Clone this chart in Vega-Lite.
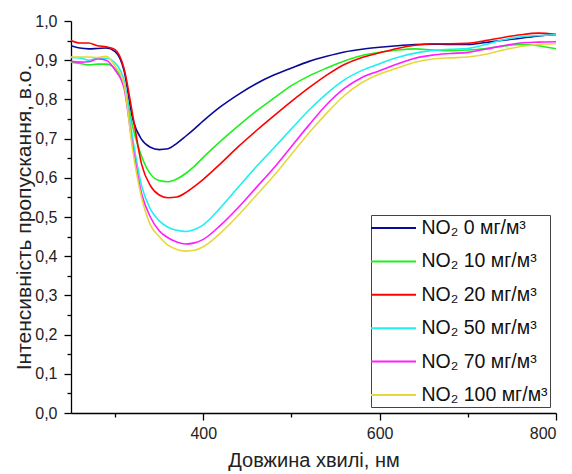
{
  "$schema": "https://vega.github.io/schema/vega-lite/v6.json",
  "width": 485,
  "height": 392,
  "autosize": {"type": "none"},
  "padding": {"left": 71, "top": 21, "right": 16, "bottom": 61},
  "background": "white",
  "config": {
    "view": {"stroke": null},
    "font": "Liberation Sans"
  },
  "data": {
    "values": [
      {"s":"NO₂ 0 мг/м³","w":250,"v":0.937},{"s":"NO₂ 0 мг/м³","w":260,"v":0.931},{"s":"NO₂ 0 мг/м³","w":270,"v":0.929},{"s":"NO₂ 0 мг/м³","w":280,"v":0.93},{"s":"NO₂ 0 мг/м³","w":290,"v":0.931},{"s":"NO₂ 0 мг/м³","w":300,"v":0.922},{"s":"NO₂ 0 мг/м³","w":310,"v":0.875},{"s":"NO₂ 0 мг/м³","w":320,"v":0.75},{"s":"NO₂ 0 мг/м³","w":330,"v":0.698},{"s":"NO₂ 0 мг/м³","w":340,"v":0.678},{"s":"NO₂ 0 мг/м³","w":350,"v":0.672},{"s":"NO₂ 0 мг/м³","w":360,"v":0.674},{"s":"NO₂ 0 мг/м³","w":370,"v":0.688},{"s":"NO₂ 0 мг/м³","w":380,"v":0.706},{"s":"NO₂ 0 мг/м³","w":390,"v":0.725},{"s":"NO₂ 0 мг/м³","w":400,"v":0.745},{"s":"NO₂ 0 мг/м³","w":420,"v":0.782},{"s":"NO₂ 0 мг/м³","w":440,"v":0.813},{"s":"NO₂ 0 мг/м³","w":460,"v":0.84},{"s":"NO₂ 0 мг/м³","w":480,"v":0.862},{"s":"NO₂ 0 мг/м³","w":500,"v":0.88},{"s":"NO₂ 0 мг/м³","w":520,"v":0.897},{"s":"NO₂ 0 мг/м³","w":540,"v":0.91},{"s":"NO₂ 0 мг/м³","w":560,"v":0.921},{"s":"NO₂ 0 мг/м³","w":580,"v":0.928},{"s":"NO₂ 0 мг/м³","w":600,"v":0.933},{"s":"NO₂ 0 мг/м³","w":620,"v":0.937},{"s":"NO₂ 0 мг/м³","w":640,"v":0.94},{"s":"NO₂ 0 мг/м³","w":660,"v":0.941},{"s":"NO₂ 0 мг/м³","w":680,"v":0.94},{"s":"NO₂ 0 мг/м³","w":700,"v":0.94},{"s":"NO₂ 0 мг/м³","w":720,"v":0.945},{"s":"NO₂ 0 мг/м³","w":740,"v":0.951},{"s":"NO₂ 0 мг/м³","w":760,"v":0.956},{"s":"NO₂ 0 мг/м³","w":780,"v":0.962},{"s":"NO₂ 0 мг/м³","w":800,"v":0.965},

      {"s":"NO₂ 10 мг/м³","w":250,"v":0.895},{"s":"NO₂ 10 мг/м³","w":260,"v":0.892},{"s":"NO₂ 10 мг/м³","w":270,"v":0.888},{"s":"NO₂ 10 мг/м³","w":280,"v":0.89},{"s":"NO₂ 10 мг/м³","w":290,"v":0.89},{"s":"NO₂ 10 мг/м³","w":300,"v":0.878},{"s":"NO₂ 10 мг/м³","w":310,"v":0.84},{"s":"NO₂ 10 мг/м³","w":320,"v":0.73},{"s":"NO₂ 10 мг/м³","w":330,"v":0.655},{"s":"NO₂ 10 мг/м³","w":340,"v":0.61},{"s":"NO₂ 10 мг/м³","w":350,"v":0.593},{"s":"NO₂ 10 мг/м³","w":360,"v":0.59},{"s":"NO₂ 10 мг/м³","w":370,"v":0.597},{"s":"NO₂ 10 мг/м³","w":380,"v":0.611},{"s":"NO₂ 10 мг/м³","w":390,"v":0.63},{"s":"NO₂ 10 мг/м³","w":400,"v":0.652},{"s":"NO₂ 10 мг/м³","w":420,"v":0.694},{"s":"NO₂ 10 мг/м³","w":440,"v":0.733},{"s":"NO₂ 10 мг/м³","w":460,"v":0.77},{"s":"NO₂ 10 мг/м³","w":480,"v":0.803},{"s":"NO₂ 10 мг/м³","w":500,"v":0.835},{"s":"NO₂ 10 мг/м³","w":520,"v":0.86},{"s":"NO₂ 10 мг/м³","w":540,"v":0.88},{"s":"NO₂ 10 мг/м³","w":560,"v":0.898},{"s":"NO₂ 10 мг/м³","w":580,"v":0.912},{"s":"NO₂ 10 мг/м³","w":600,"v":0.92},{"s":"NO₂ 10 мг/м³","w":620,"v":0.926},{"s":"NO₂ 10 мг/м³","w":640,"v":0.929},{"s":"NO₂ 10 мг/м³","w":660,"v":0.926},{"s":"NO₂ 10 мг/м³","w":680,"v":0.924},{"s":"NO₂ 10 мг/м³","w":700,"v":0.926},{"s":"NO₂ 10 мг/м³","w":720,"v":0.93},{"s":"NO₂ 10 мг/м³","w":740,"v":0.936},{"s":"NO₂ 10 мг/м³","w":760,"v":0.94},{"s":"NO₂ 10 мг/м³","w":780,"v":0.937},{"s":"NO₂ 10 мг/м³","w":800,"v":0.929},

      {"s":"NO₂ 20 мг/м³","w":250,"v":0.95},{"s":"NO₂ 20 мг/м³","w":260,"v":0.944},{"s":"NO₂ 20 мг/м³","w":270,"v":0.944},{"s":"NO₂ 20 мг/м³","w":280,"v":0.937},{"s":"NO₂ 20 мг/м³","w":290,"v":0.934},{"s":"NO₂ 20 мг/м³","w":300,"v":0.927},{"s":"NO₂ 20 мг/м³","w":310,"v":0.88},{"s":"NO₂ 20 мг/м³","w":320,"v":0.76},{"s":"NO₂ 20 мг/м³","w":330,"v":0.635},{"s":"NO₂ 20 мг/м³","w":340,"v":0.58},{"s":"NO₂ 20 мг/м³","w":350,"v":0.556},{"s":"NO₂ 20 мг/м³","w":360,"v":0.549},{"s":"NO₂ 20 мг/м³","w":370,"v":0.551},{"s":"NO₂ 20 мг/м³","w":380,"v":0.562},{"s":"NO₂ 20 мг/м³","w":390,"v":0.578},{"s":"NO₂ 20 мг/м³","w":400,"v":0.596},{"s":"NO₂ 20 мг/м³","w":420,"v":0.637},{"s":"NO₂ 20 мг/м³","w":440,"v":0.68},{"s":"NO₂ 20 мг/м³","w":460,"v":0.72},{"s":"NO₂ 20 мг/м³","w":480,"v":0.758},{"s":"NO₂ 20 мг/м³","w":500,"v":0.795},{"s":"NO₂ 20 мг/м³","w":520,"v":0.83},{"s":"NO₂ 20 мг/м³","w":540,"v":0.862},{"s":"NO₂ 20 мг/м³","w":560,"v":0.889},{"s":"NO₂ 20 мг/м³","w":580,"v":0.907},{"s":"NO₂ 20 мг/м³","w":600,"v":0.919},{"s":"NO₂ 20 мг/м³","w":620,"v":0.93},{"s":"NO₂ 20 мг/м³","w":640,"v":0.938},{"s":"NO₂ 20 мг/м³","w":660,"v":0.942},{"s":"NO₂ 20 мг/м³","w":680,"v":0.942},{"s":"NO₂ 20 мг/м³","w":700,"v":0.943},{"s":"NO₂ 20 мг/м³","w":720,"v":0.95},{"s":"NO₂ 20 мг/м³","w":740,"v":0.958},{"s":"NO₂ 20 мг/м³","w":760,"v":0.965},{"s":"NO₂ 20 мг/м³","w":780,"v":0.969},{"s":"NO₂ 20 мг/м³","w":800,"v":0.966},

      {"s":"NO₂ 50 мг/м³","w":250,"v":0.907},{"s":"NO₂ 50 мг/м³","w":260,"v":0.906},{"s":"NO₂ 50 мг/м³","w":270,"v":0.9},{"s":"NO₂ 50 мг/м³","w":280,"v":0.905},{"s":"NO₂ 50 мг/м³","w":290,"v":0.905},{"s":"NO₂ 50 мг/м³","w":300,"v":0.893},{"s":"NO₂ 50 мг/м³","w":310,"v":0.85},{"s":"NO₂ 50 мг/м³","w":320,"v":0.7},{"s":"NO₂ 50 мг/м³","w":330,"v":0.58},{"s":"NO₂ 50 мг/м³","w":340,"v":0.52},{"s":"NO₂ 50 мг/м³","w":350,"v":0.49},{"s":"NO₂ 50 мг/м³","w":360,"v":0.474},{"s":"NO₂ 50 мг/м³","w":370,"v":0.466},{"s":"NO₂ 50 мг/м³","w":380,"v":0.463},{"s":"NO₂ 50 мг/м³","w":390,"v":0.468},{"s":"NO₂ 50 мг/м³","w":400,"v":0.48},{"s":"NO₂ 50 мг/м³","w":420,"v":0.525},{"s":"NO₂ 50 мг/м³","w":440,"v":0.577},{"s":"NO₂ 50 мг/м³","w":460,"v":0.628},{"s":"NO₂ 50 мг/м³","w":480,"v":0.676},{"s":"NO₂ 50 мг/м³","w":500,"v":0.725},{"s":"NO₂ 50 мг/м³","w":520,"v":0.773},{"s":"NO₂ 50 мг/м³","w":540,"v":0.815},{"s":"NO₂ 50 мг/м³","w":560,"v":0.85},{"s":"NO₂ 50 мг/м³","w":580,"v":0.874},{"s":"NO₂ 50 мг/м³","w":600,"v":0.891},{"s":"NO₂ 50 мг/м³","w":620,"v":0.907},{"s":"NO₂ 50 мг/м³","w":640,"v":0.918},{"s":"NO₂ 50 мг/м³","w":660,"v":0.925},{"s":"NO₂ 50 мг/м³","w":680,"v":0.928},{"s":"NO₂ 50 мг/м³","w":700,"v":0.93},{"s":"NO₂ 50 мг/м³","w":720,"v":0.94},{"s":"NO₂ 50 мг/м³","w":740,"v":0.952},{"s":"NO₂ 50 мг/м³","w":760,"v":0.96},{"s":"NO₂ 50 мг/м³","w":780,"v":0.963},{"s":"NO₂ 50 мг/м³","w":800,"v":0.965},

      {"s":"NO₂ 70 мг/м³","w":250,"v":0.897},{"s":"NO₂ 70 мг/м³","w":260,"v":0.895},{"s":"NO₂ 70 мг/м³","w":270,"v":0.896},{"s":"NO₂ 70 мг/м³","w":280,"v":0.903},{"s":"NO₂ 70 мг/м³","w":290,"v":0.9},{"s":"NO₂ 70 мг/м³","w":300,"v":0.875},{"s":"NO₂ 70 мг/м³","w":310,"v":0.83},{"s":"NO₂ 70 мг/м³","w":320,"v":0.68},{"s":"NO₂ 70 мг/м³","w":330,"v":0.56},{"s":"NO₂ 70 мг/м³","w":340,"v":0.5},{"s":"NO₂ 70 мг/м³","w":350,"v":0.465},{"s":"NO₂ 70 мг/м³","w":360,"v":0.447},{"s":"NO₂ 70 мг/м³","w":370,"v":0.436},{"s":"NO₂ 70 мг/м³","w":380,"v":0.431},{"s":"NO₂ 70 мг/м³","w":390,"v":0.434},{"s":"NO₂ 70 мг/м³","w":400,"v":0.443},{"s":"NO₂ 70 мг/м³","w":420,"v":0.48},{"s":"NO₂ 70 мг/м³","w":440,"v":0.525},{"s":"NO₂ 70 мг/м³","w":460,"v":0.575},{"s":"NO₂ 70 мг/м³","w":480,"v":0.625},{"s":"NO₂ 70 мг/м³","w":500,"v":0.68},{"s":"NO₂ 70 мг/м³","w":520,"v":0.735},{"s":"NO₂ 70 мг/м³","w":540,"v":0.787},{"s":"NO₂ 70 мг/м³","w":560,"v":0.828},{"s":"NO₂ 70 мг/м³","w":580,"v":0.856},{"s":"NO₂ 70 мг/м³","w":600,"v":0.873},{"s":"NO₂ 70 мг/м³","w":620,"v":0.89},{"s":"NO₂ 70 мг/м³","w":640,"v":0.905},{"s":"NO₂ 70 мг/м³","w":660,"v":0.913},{"s":"NO₂ 70 мг/м³","w":680,"v":0.917},{"s":"NO₂ 70 мг/м³","w":700,"v":0.92},{"s":"NO₂ 70 мг/м³","w":720,"v":0.928},{"s":"NO₂ 70 мг/м³","w":740,"v":0.937},{"s":"NO₂ 70 мг/м³","w":760,"v":0.944},{"s":"NO₂ 70 мг/м³","w":780,"v":0.946},{"s":"NO₂ 70 мг/м³","w":800,"v":0.947},

      {"s":"NO₂ 100 мг/м³","w":250,"v":0.908},{"s":"NO₂ 100 мг/м³","w":260,"v":0.908},{"s":"NO₂ 100 мг/м³","w":270,"v":0.908},{"s":"NO₂ 100 мг/м³","w":280,"v":0.907},{"s":"NO₂ 100 мг/м³","w":290,"v":0.91},{"s":"NO₂ 100 мг/м³","w":300,"v":0.885},{"s":"NO₂ 100 мг/м³","w":310,"v":0.84},{"s":"NO₂ 100 мг/м³","w":320,"v":0.67},{"s":"NO₂ 100 мг/м³","w":330,"v":0.55},{"s":"NO₂ 100 мг/м³","w":340,"v":0.48},{"s":"NO₂ 100 мг/м³","w":350,"v":0.45},{"s":"NO₂ 100 мг/м³","w":360,"v":0.428},{"s":"NO₂ 100 мг/м³","w":370,"v":0.417},{"s":"NO₂ 100 мг/м³","w":380,"v":0.413},{"s":"NO₂ 100 мг/м³","w":390,"v":0.415},{"s":"NO₂ 100 мг/м³","w":400,"v":0.424},{"s":"NO₂ 100 мг/м³","w":420,"v":0.46},{"s":"NO₂ 100 мг/м³","w":440,"v":0.505},{"s":"NO₂ 100 мг/м³","w":460,"v":0.555},{"s":"NO₂ 100 мг/м³","w":480,"v":0.605},{"s":"NO₂ 100 мг/м³","w":500,"v":0.66},{"s":"NO₂ 100 мг/м³","w":520,"v":0.715},{"s":"NO₂ 100 мг/м³","w":540,"v":0.765},{"s":"NO₂ 100 мг/м³","w":560,"v":0.81},{"s":"NO₂ 100 мг/м³","w":580,"v":0.843},{"s":"NO₂ 100 мг/м³","w":600,"v":0.865},{"s":"NO₂ 100 мг/м³","w":620,"v":0.88},{"s":"NO₂ 100 мг/м³","w":640,"v":0.895},{"s":"NO₂ 100 мг/м³","w":660,"v":0.903},{"s":"NO₂ 100 мг/м³","w":680,"v":0.906},{"s":"NO₂ 100 мг/м³","w":700,"v":0.908},{"s":"NO₂ 100 мг/м³","w":720,"v":0.915},{"s":"NO₂ 100 мг/м³","w":740,"v":0.926},{"s":"NO₂ 100 мг/м³","w":760,"v":0.935},{"s":"NO₂ 100 мг/м³","w":780,"v":0.94},{"s":"NO₂ 100 мг/м³","w":800,"v":0.942}
    ]
  },
  "mark": {"type": "line", "interpolate": "monotone", "strokeWidth": 1.6, "clip": true},
  "encoding": {
    "x": {
      "field": "w", "type": "quantitative",
      "scale": {"domain": [250, 800], "nice": false, "zero": false},
      "axis": {
        "title": "Довжина хвилі, нм",
        "values": [300, 400, 500, 600, 700, 800],
        "labelExpr": "datum.value % 200 === 0 ? datum.label : ''",
        "tickSize": {"condition": {"test": "datum.value % 200 === 0", "value": 7}, "value": 4},
        "grid": false,
        "domainColor": "black", "tickColor": "black", "domainWidth": 1.3, "tickWidth": 1.3,
        "labelFont": "Liberation Sans", "labelFontSize": 16, "labelColor": "#222",
        "labelPadding": 5,
        "titleFont": "Liberation Sans", "titleFontSize": 20, "titleFontWeight": "normal", "titleColor": "#222",
        "titlePadding": 9
      }
    },
    "y": {
      "field": "v", "type": "quantitative",
      "scale": {"domain": [0, 1], "nice": false},
      "axis": {
        "title": "Інтенсивність пропускання, в.о.",
        "values": [0,0.05,0.1,0.15,0.2,0.25,0.3,0.35,0.4,0.45,0.5,0.55,0.6,0.65,0.7,0.75,0.8,0.85,0.9,0.95,1.0],
        "labelExpr": "abs(datum.value*10 - round(datum.value*10)) < 0.001 ? replace(format(datum.value, '.1f'), '.', ',') : ''",
        "tickSize": {"condition": {"test": "abs(datum.value*10 - round(datum.value*10)) < 0.001", "value": 7}, "value": 4},
        "grid": false,
        "domainColor": "black", "tickColor": "black", "domainWidth": 1.3, "tickWidth": 1.3,
        "labelFont": "Liberation Sans", "labelFontSize": 16, "labelColor": "#222",
        "labelPadding": 7,
        "titleFont": "Liberation Sans", "titleFontSize": 21, "titleFontWeight": "normal", "titleColor": "#222",
        "titlePadding": 0
      }
    },
    "color": {
      "field": "s", "type": "nominal",
      "scale": {
        "domain": ["NO₂ 0 мг/м³","NO₂ 10 мг/м³","NO₂ 20 мг/м³","NO₂ 50 мг/м³","NO₂ 70 мг/м³","NO₂ 100 мг/м³"],
        "range": ["#0a0a96","#1ef01e","#ff0000","#1ef0f0","#ff1eff","#e6d83c"]
      },
      "legend": {
        "title": null,
        "orient": "none",
        "legendX": 300,
        "legendY": 194,
        "symbolType": "M-2.25,0L2.25,0",
        "symbolSize": 400,
        "symbolOffset": 9.5,
        "symbolStrokeWidth": 2,
        "labelOffset": 17,
        "labelFont": "Liberation Sans",
        "labelFontSize": 19.5,
        "labelColor": "#111",
        "labelLimit": 220,
        "rowPadding": 12.4,
        "padding": 2,
        "strokeColor": "#444",
        "fillColor": "white",
        "cornerRadius": 0
      }
    }
  }
}
